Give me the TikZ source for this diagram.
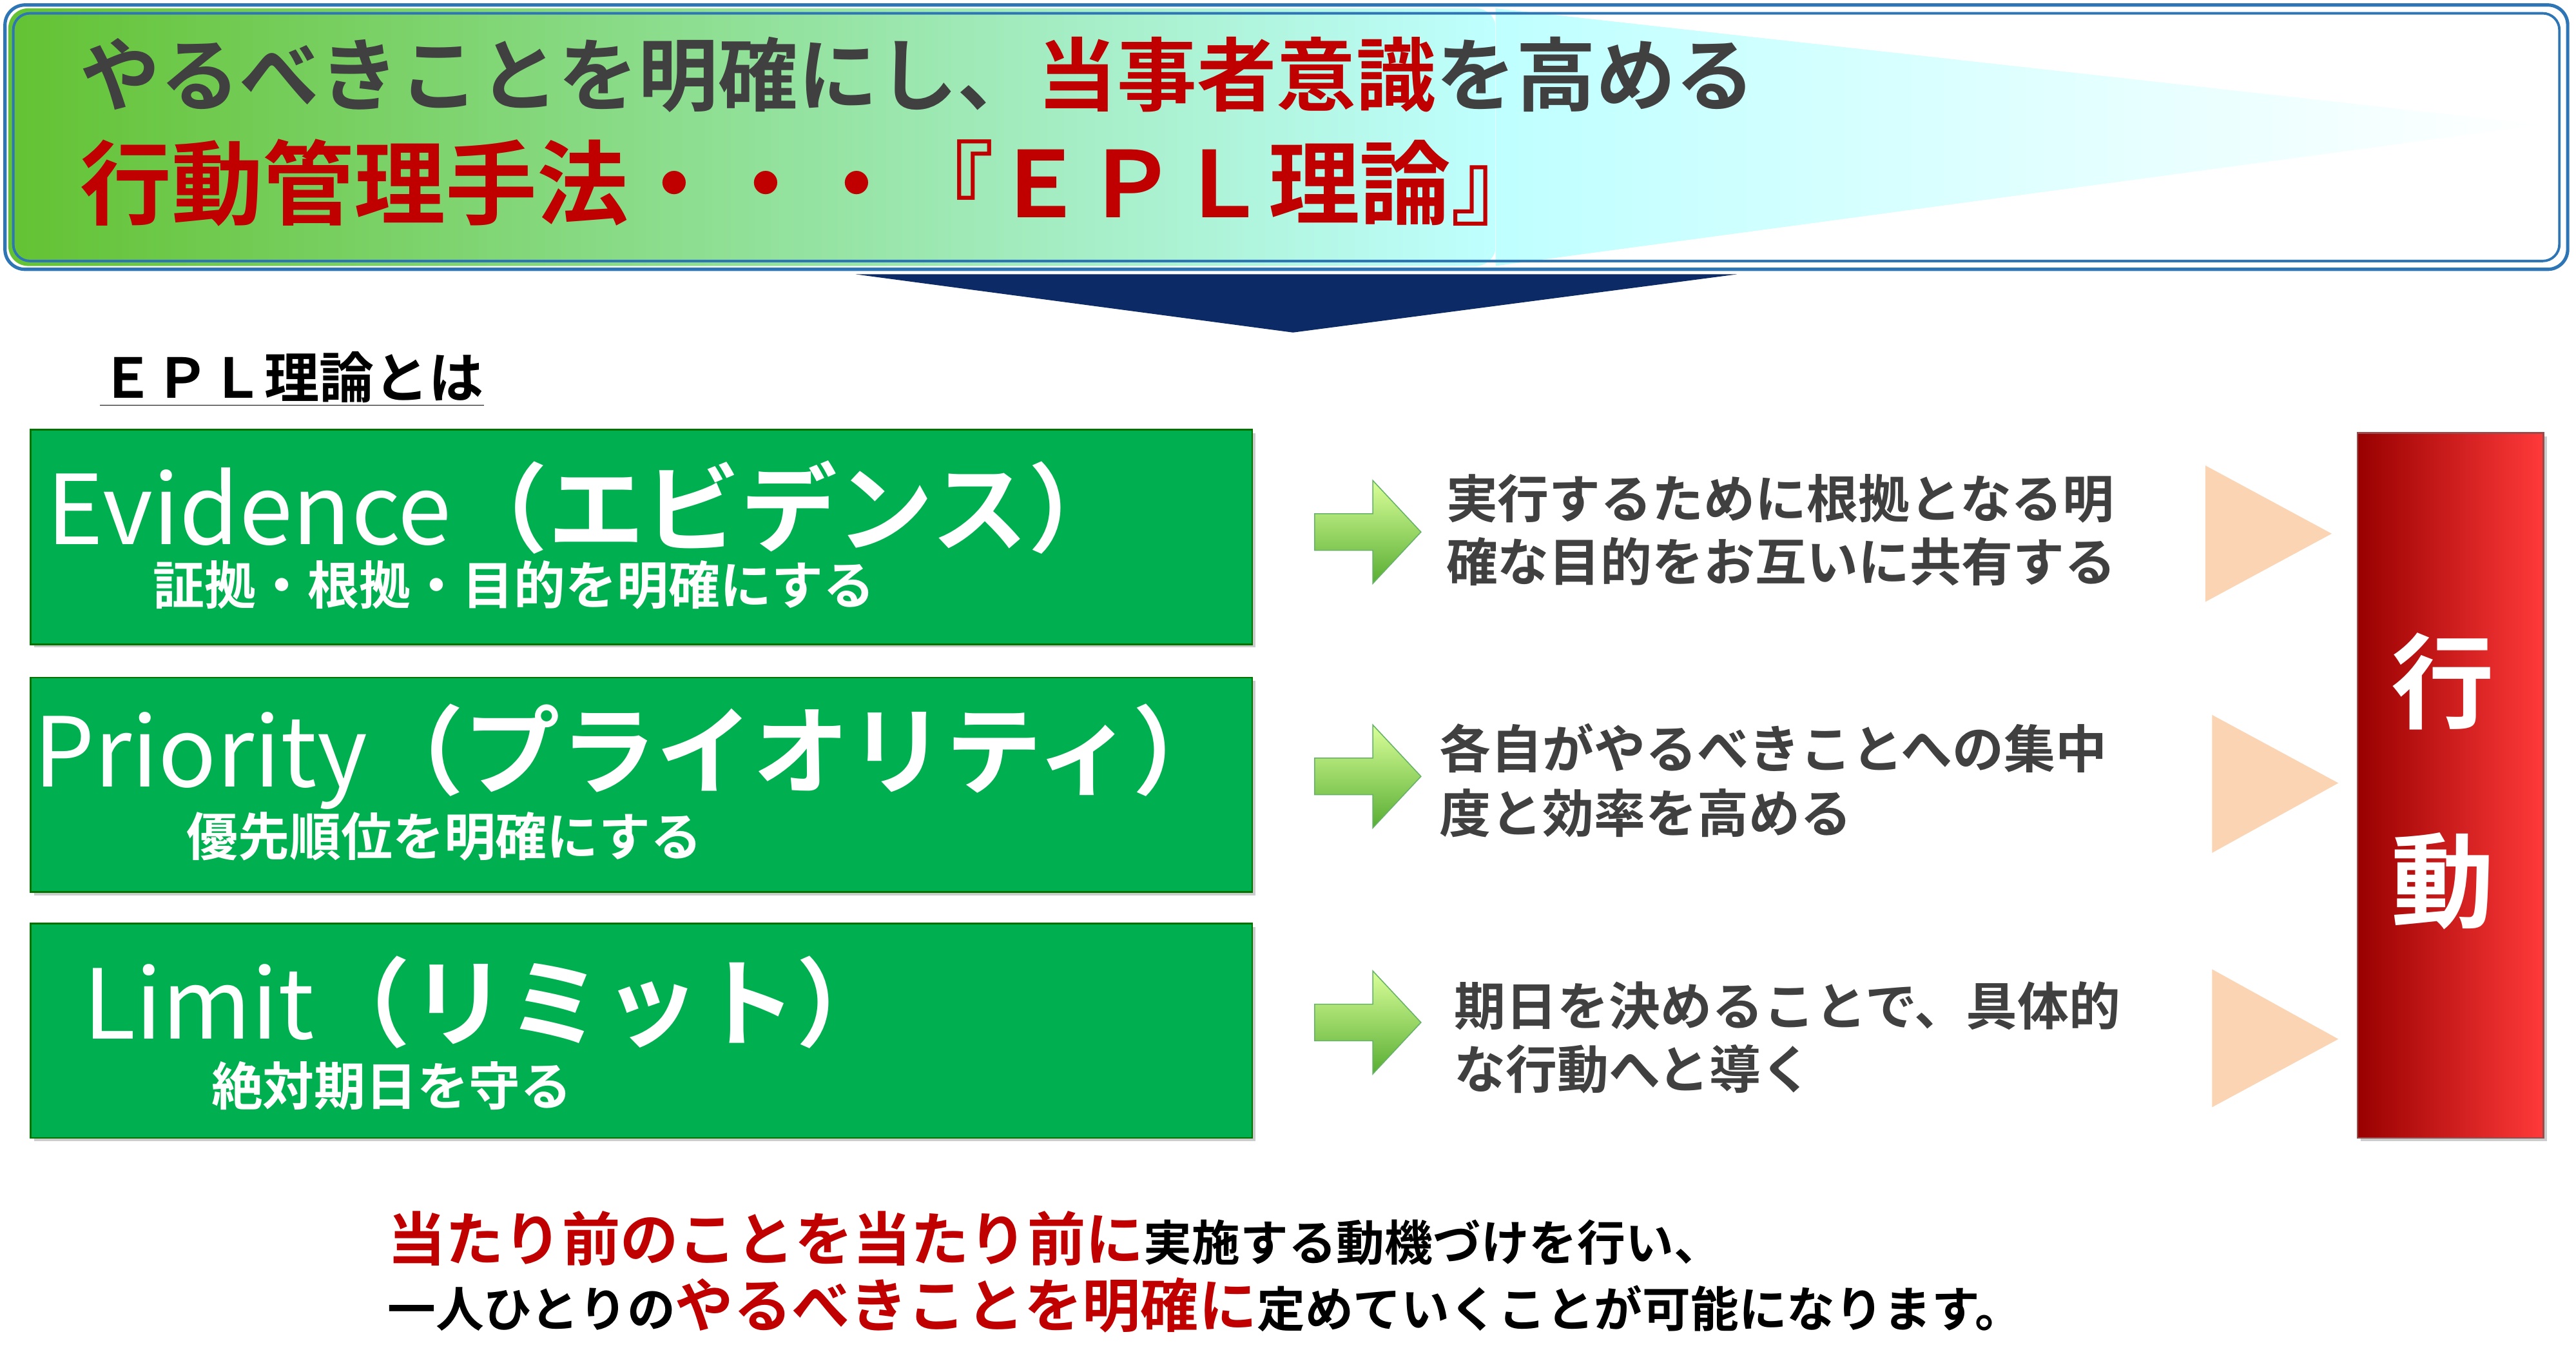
\documentclass[tikz,border=0pt]{standalone}
\usepackage{fontspec}
\setmainfont{Noto Sans CJK JP}[BoldFont={Noto Sans CJK JP Bold}]
\usetikzlibrary{shadows}
\definecolor{rd}{HTML}{C00000}
\definecolor{gy}{HTML}{404040}
\definecolor{gb}{HTML}{00B050}
\definecolor{peach}{HTML}{FBD4B4}
\definecolor{navy}{HTML}{0B2A66}
\definecolor{bl}{HTML}{2E75B6}
\newcommand{\fs}[1]{\fontsize{#1}{#1}\selectfont\bfseries}
\tikzset{
 gbox/.style={draw=green!45!black,line width=1pt,fill=gb,drop shadow={shadow xshift=2pt,shadow yshift=-2pt,opacity=.4}},
 txt/.style={anchor=west,inner sep=0pt},
 garrow/.style={top color=green!15!lime!40!white,bottom color=green!60!lime!60!black!80,draw=green!50!black!60,line width=.6pt},
 tri/.style={fill=peach}
}
\begin{document}
\begin{tikzpicture}[x=1pt,y=-1pt]
\useasboundingbox (0,0) rectangle (1550,824);
% title box
\shade[left color=green!55!lime!70!black!80, right color=cyan!25, rounded corners=12pt] (5,5) rectangle (900,160);
\fill[white,path fading=east] (900,5) rectangle (1543,160);
\shade[left color=cyan!25,right color=white] (900,5) -- (1530,75) -- (900,160) -- cycle;
\path[fill=white] (900,5) -- (1530,5) -- (1530,75) -- cycle;
\path[fill=white] (900,160) -- (1530,160) -- (1530,75) -- cycle;
\shade[left color=cyan!25,right color=white] (900,55) -- (1530,75) -- (900,100) -- cycle;
\draw[bl,line width=2pt,rounded corners=12pt] (3,3) rectangle (1545,162);
\draw[bl,line width=1.5pt,rounded corners=10pt] (8,8) rectangle (1540,157);
\node[txt] (t1) at (48,45) {\fs{48}\color{gy}やるべきことを明確にし、\color{rd}当事者意識\color{gy}を高める};
\node[txt] (t2) at (48,110) {\fs{55}\color{rd}行動管理手法・・・『ＥＰＬ理論』};
\fill[navy] (515,165) -- (1045,165) -- (778,200) -- cycle;
\node[txt] (ep) at (60,228) {\fs{33}\underline{ＥＰＬ理論とは}};
% green boxes
\node[gbox,minimum width=735,minimum height=129,inner sep=0,anchor=north west] (b1) at (18,258) {};
\node[gbox,minimum width=735,minimum height=129,inner sep=0,anchor=north west] (b2) at (18,407) {};
\node[gbox,minimum width=735,minimum height=129,inner sep=0,anchor=north west] (b3) at (18,555) {};
\node[txt,white] (e1) at (28,305) {\fontsize{58}{58}\selectfont Evidence\bfseries（エビデンス）};
\node[txt,white] (e2) at (92,352) {\fs{31}証拠・根拠・目的を明確にする};
\node[txt,white] (p1) at (20,455) {\fontsize{58}{58}\selectfont Priority\bfseries（プライオリティ）};
\node[txt,white] (p2) at (112,503) {\fs{31}優先順位を明確にする};
\node[txt,white] (l1) at (50,603) {\fontsize{58}{58}\selectfont Limit\bfseries（リミット）};
\node[txt,white] (l2) at (127,653) {\fs{31}絶対期日を守る};
% arrows
\foreach \y in {320,467,615}{
 \draw[garrow] (791,\y-11) -- (826,\y-11) -- (826,\y-31) -- (855,\y) -- (826,\y+31) -- (826,\y+11) -- (791,\y+11) -- cycle;}
\node[txt,gy] (r1) at (870,300) {\fs{31}実行するために根拠となる明};
\node[txt,gy] (r1b) at (870,338) {\fs{31}確な目的をお互いに共有する};
\node[txt,gy] (r2) at (866,450) {\fs{31}各自がやるべきことへの集中};
\node[txt,gy] (r2b) at (866,489) {\fs{31}度と効率を高める};
\node[txt,gy] (r3) at (875,605) {\fs{31}期日を決めることで、具体的};
\node[txt,gy] (r3b) at (875,643) {\fs{31}な行動へと導く};
\fill[tri] (1327,280) -- (1403,321) -- (1327,362) -- cycle;
\fill[tri] (1331,430) -- (1407,471) -- (1331,513) -- cycle;
\fill[tri] (1331,583) -- (1407,625) -- (1331,666) -- cycle;
% red box
\node[draw=red!40!black!70,line width=.8pt,left color=red!60!black,right color=red!75!white!90!red,minimum width=112,minimum height=424,inner sep=0,anchor=north west,drop shadow={shadow xshift=2pt,shadow yshift=-2pt,opacity=.4}] (act) at (1418,260) {};
\node[white] (a1) at (1470,410) {\fs{62}行};
\node[white] (a2) at (1470,530) {\fs{62}動};
% bottom
\node[txt] (bt1) at (233,745) {\fs{35}\color{rd}当たり前のことを当たり前に\fontsize{29}{29}\selectfont\color{black}実施する動機づけを行い、};
\node[txt] (bt2) at (233,785) {\fs{29}一人ひとりの\fontsize{35}{35}\selectfont\color{rd}やるべきことを明確に\fontsize{29}{29}\selectfont\color{black}定めていくことが可能になります。};
\end{tikzpicture}
\end{document}
